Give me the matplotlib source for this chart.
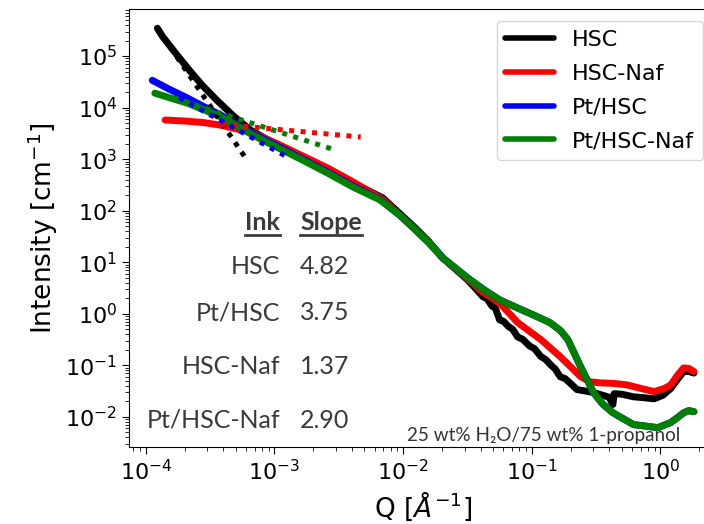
import matplotlib
matplotlib.use("Agg")
import matplotlib.pyplot as plt

# SAXS curves
q_hsc = [1.23e-4, 1.349e-4, 1.738e-4, 2.188e-4, 2.754e-4, 3.548e-4, 4.786e-4, 6.457e-4,
         1.0e-3, 1.660e-3, 2.818e-3, 4.074e-3, 6.918e-3, 9.550e-3, 1.259e-2, 1.585e-2,
         2.042e-2, 2.512e-2, 3.162e-2, 3.631e-2, 4.169e-2, 4.5e-2, 4.898e-2, 5.2e-2,
         5.623e-2, 6.0e-2, 6.607e-2, 7.1e-2, 7.762e-2, 8.5e-2, 9.550e-2, 0.105, 0.1175,
         0.128, 0.1413, 0.152, 0.1660, 0.182, 0.1995, 0.2239, 0.2630, 0.3020, 0.3548,
         0.3981, 0.4266, 0.4365, 0.5012, 0.6166, 0.7586, 0.8913, 1.047, 1.202, 1.349,
         1.514, 1.660, 1.820]
i_hsc = [3.47e5, 2.40e5, 1.07e5, 5.25e4, 2.69e4, 1.41e4, 6.92e3, 3.72e3,
         2.00e3, 1.10e3, 562, 347, 178, 85.1, 44.7, 25.1,
         12.0, 7.59, 4.57, 3.16, 2.14, 1.95, 1.41, 1.30,
         0.759, 0.72, 0.562, 0.50, 0.355, 0.32, 0.240, 0.21, 0.148,
         0.13, 0.100, 0.085, 0.0603, 0.055, 0.0447, 0.0339, 0.0316, 0.0295, 0.0263,
         0.0240, 0.0174, 0.0282, 0.0275, 0.0245, 0.0234, 0.0224, 0.0263, 0.0355, 0.0525,
         0.0759, 0.0759, 0.0708]

q_hsc_naf = [1.413e-4, 1.995e-4, 2.818e-4, 3.802e-4, 5.012e-4, 6.761e-4, 1.047e-3,
             1.660e-3, 2.630e-3, 4.074e-3, 6.918e-3, 9.550e-3, 1.259e-2, 1.585e-2,
             2.042e-2, 3.162e-2, 4.169e-2, 5.623e-2, 7.762e-2, 0.1175, 0.1660, 0.2399,
             0.2818, 0.3388, 0.4266, 0.5495, 0.7079, 0.8913, 1.072, 1.202, 1.349, 1.514,
             1.660, 1.820]
i_hsc_naf = [5.75e3, 5.50e3, 5.13e3, 4.57e3, 3.89e3, 3.24e3, 2.00e3,
             1.15e3, 661, 363, 166, 79.4, 41.7, 24.0,
             12.0, 4.79, 2.63, 1.62, 0.676, 0.316, 0.148, 0.0603,
             0.0479, 0.0457, 0.0447, 0.0417, 0.0355, 0.0309, 0.0355, 0.0417, 0.0631, 0.0891,
             0.0871, 0.0759]

q_pt_hsc = [1.122e-4, 1.514e-4, 2.089e-4, 2.818e-4, 3.802e-4, 5.012e-4, 6.761e-4,
            1.047e-3, 1.660e-3, 2.630e-3, 4.074e-3, 6.607e-3, 9.550e-3, 1.259e-2,
            1.585e-2, 2.042e-2, 3.162e-2, 4.169e-2, 5.623e-2, 7.943e-2, 0.1023, 0.1380,
            0.1660, 0.1905, 0.2399, 0.3020, 0.3548, 0.4266, 0.6166, 0.9550, 1.202, 1.380,
            1.514, 1.660, 1.820]
i_pt_hsc = [3.39e4, 2.29e4, 1.55e4, 1.05e4, 7.24e3, 4.79e3, 3.16e3,
            1.82e3, 1.00e3, 550, 302, 166, 79.4, 41.7,
            24.0, 12.0, 5.01, 3.02, 1.86, 1.26, 0.955, 0.676,
            0.479, 0.316, 0.0933, 0.0295, 0.0178, 0.0120, 0.00708, 0.00617, 0.00776, 0.0100,
            0.0120, 0.0132, 0.0126]

q_pt_hsc_naf = [1.175e-4, 1.585e-4, 2.089e-4, 2.818e-4, 3.802e-4, 5.012e-4, 6.761e-4,
                1.047e-3, 1.660e-3, 2.630e-3, 4.074e-3, 6.607e-3, 9.550e-3, 1.259e-2,
                1.585e-2, 2.042e-2, 3.162e-2, 4.169e-2, 5.623e-2, 7.943e-2, 0.1023, 0.1380,
                0.1660, 0.1905, 0.2399, 0.3020, 0.3548, 0.4266, 0.6166, 0.9550, 1.202, 1.380,
                1.514, 1.660, 1.820]
i_pt_hsc_naf = [1.91e4, 1.51e4, 1.23e4, 9.12e3, 6.61e3, 4.57e3, 2.95e3,
                1.70e3, 955, 525, 288, 162, 79.4, 41.7,
                24.0, 12.0, 5.01, 3.02, 1.86, 1.26, 0.955, 0.676,
                0.479, 0.316, 0.0933, 0.0295, 0.0178, 0.0120, 0.00708, 0.00617, 0.00776, 0.0100,
                0.0120, 0.0132, 0.0126]

# power-law fit segments (start, end)
fit_hsc_q = [1.23e-4, 5.888e-4]
fit_hsc_i = [3.47e5, 1.10e3]
fit_hsc_naf_q = [3.802e-4, 4.677e-3]
fit_hsc_naf_i = [4.79e3, 2.69e3]
fit_pt_hsc_q = [1.820e-4, 1.259e-3]
fit_pt_hsc_i = [1.55e4, 1.10e3]
fit_pt_hsc_naf_q = [1.622e-4, 2.951e-3]
fit_pt_hsc_naf_i = [1.55e4, 1.51e3]

labels = ['HSC', 'HSC-Naf', 'Pt/HSC', 'Pt/HSC-Naf']
colors = ['black', 'red', 'blue', 'green']
ink_names = ['HSC', 'Pt/HSC', 'HSC-Naf', 'Pt/HSC-Naf']
slopes = ['4.82', '3.75', '1.37', '2.90']

fig = plt.figure(figsize=(7.04, 5.24), dpi=100)
ax = fig.add_axes([129 / 704, 77 / 524, 588 / 704, 438 / 524])

curves = [(q_hsc, i_hsc), (q_hsc_naf, i_hsc_naf), (q_pt_hsc, i_pt_hsc), (q_pt_hsc_naf, i_pt_hsc_naf)]
for (q, i), lab, c in zip(curves, labels, colors):
    ax.plot(q, i, color=c, lw=5, label=lab, solid_capstyle='round')

fits = [(fit_hsc_q, fit_hsc_i), (fit_hsc_naf_q, fit_hsc_naf_i),
        (fit_pt_hsc_q, fit_pt_hsc_i), (fit_pt_hsc_naf_q, fit_pt_hsc_naf_i)]
for (q, i), c in zip(fits, colors):
    ax.plot(q, i, color=c, lw=3.6, linestyle=(0, (1, 1.3)))

ax.set_xscale('log')
ax.set_yscale('log')
ax.set_xlim(7.4e-5, 2.75)
ax.set_ylim(2.6e-3, 8.2e5)
ax.spines['right'].set_visible(False)
ax.tick_params(which='major', labelsize=16, length=5)
ax.tick_params(which='minor', length=3)
ax.set_xlabel(r'Q [$\AA^{-1}$]', fontsize=19)
ax.set_ylabel(r'Intensity [cm$^{-1}$]', fontsize=19)

leg = ax.legend(loc='upper right', bbox_to_anchor=(703 / 704, 1 - 21 / 524),
                bbox_transform=fig.transFigure, borderaxespad=0, fontsize=16,
                handlelength=2.2, labelspacing=0.62)
for line in leg.get_lines():
    line.set_linewidth(4)

# slope table
tcol = '#3a3a3a'
row_y = [267, 313, 367, 420]
head_ink = fig.text(280 / 704, 1 - 223 / 524, 'Ink', ha='right', va='center',
                    fontsize=18, family='Lato', weight='bold', color=tcol)
head_slope = fig.text(300 / 704, 1 - 223 / 524, 'Slope', ha='left', va='center',
                      fontsize=18, family='Lato', weight='bold', color=tcol)
for name, s, y in zip(ink_names, slopes, row_y):
    fig.text(280 / 704, 1 - y / 524, name, ha='right', va='center',
             fontsize=18, family='Lato', color=tcol)
    fig.text(300 / 704, 1 - y / 524, s, ha='left', va='center',
             fontsize=18, family='Lato', color=tcol)

fig.text(407 / 704, 1 - 436 / 524, '25 wt% H\u2082O/75 wt% 1-propanol', ha='left',
         va='center', fontsize=13.6, family=['Lato', 'DejaVu Sans'], color='#333333')

# underline the table header
fig.canvas.draw()
r = fig.canvas.get_renderer()
for t in (head_ink, head_slope):
    bb = t.get_window_extent(r).transformed(fig.transFigure.inverted())
    fig.add_artist(plt.Line2D([bb.x0, bb.x1], [bb.y0 - 0.001, bb.y0 - 0.001],
                              transform=fig.transFigure, color=tcol, lw=2))

fig.savefig('out.png', dpi=100)
